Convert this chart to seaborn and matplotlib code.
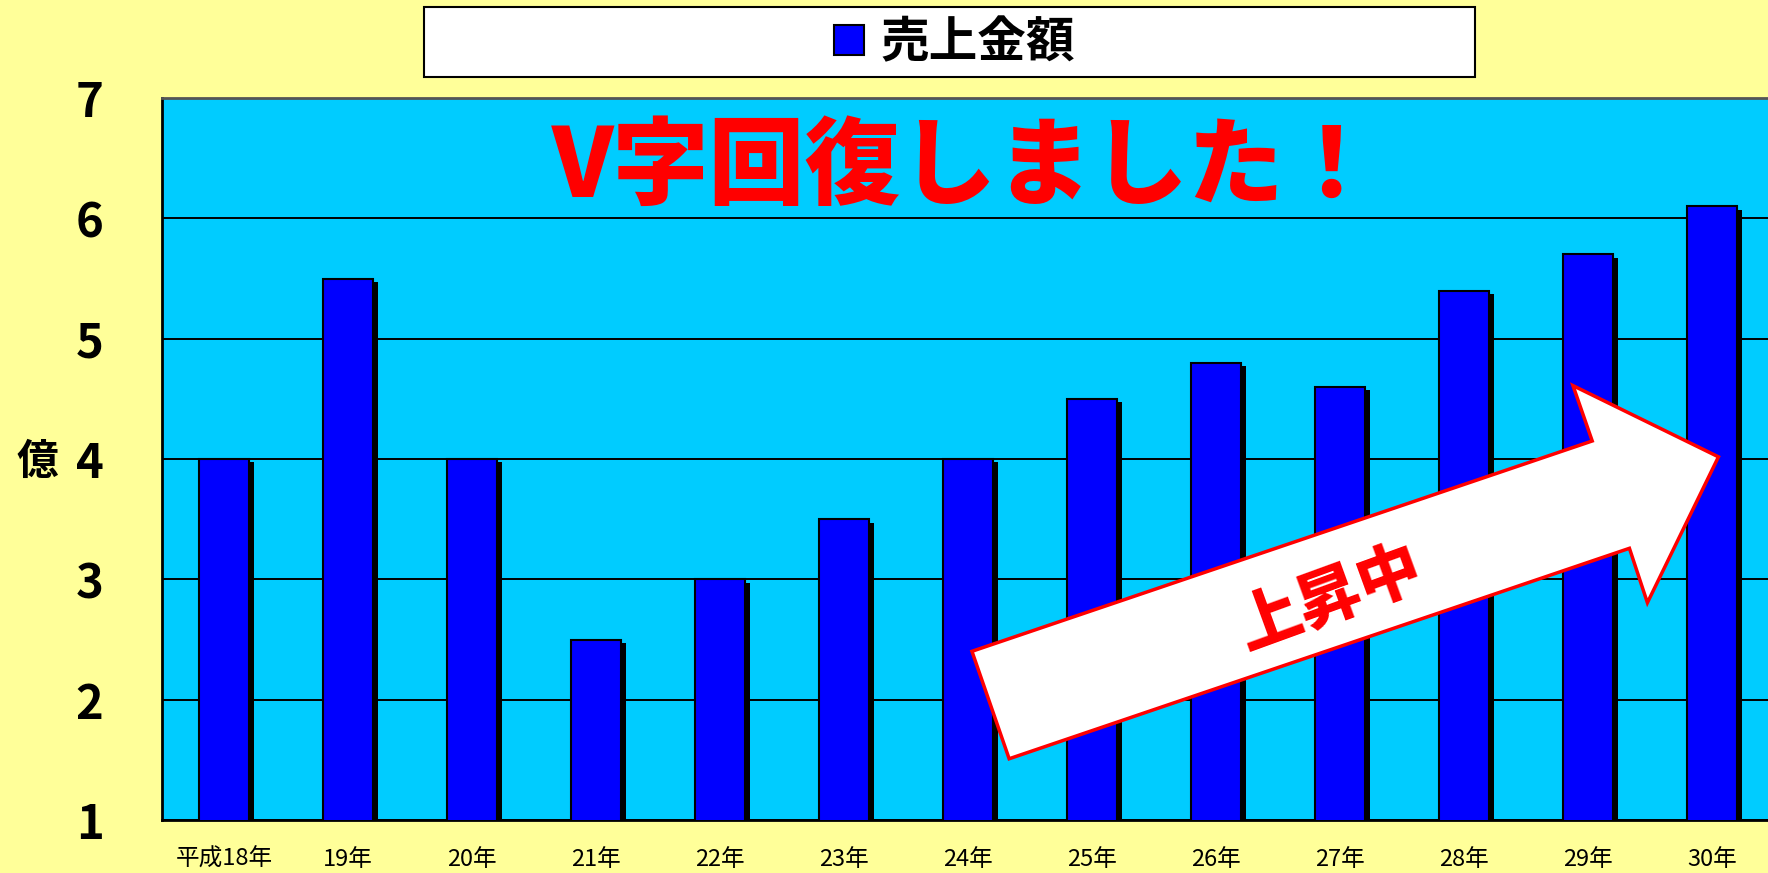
import numpy as np
import pandas as pd
import matplotlib
matplotlib.use("Agg")
import matplotlib.pyplot as plt
import matplotlib.patheffects as pe
from matplotlib.patches import Polygon, Rectangle
from matplotlib.lines import Line2D
import seaborn as sns

# data (unit: 億)
years = ["平成18年", "19年", "20年", "21年", "22年", "23年", "24年",
         "25年", "26年", "27年", "28年", "29年", "30年"]
sales = [4.0, 5.5, 4.0, 2.5, 3.0, 3.5, 4.0, 4.5, 4.8, 4.6, 5.4, 5.7, 6.1]
yticks = [1, 2, 3, 4, 5, 6, 7]

sns.set_theme(style="white")
plt.rcParams["font.family"] = ["Noto Sans CJK JP", "DejaVu Sans"]
plt.rcParams["text.color"] = "black"
plt.rcParams["xtick.color"] = "black"
plt.rcParams["ytick.color"] = "black"

df = pd.DataFrame({"year": years, "sales": sales})

fig = plt.figure(figsize=(17.68, 8.73), dpi=100, facecolor="#FFFF99")
ax = fig.add_axes([0.0916, 0.0607, 0.9118, 0.827])
ax.set_facecolor("#00CCFF")

sns.barplot(data=df, x="year", y="sales", color="#0000FF", width=0.4,
            saturation=1, edgecolor="black", linewidth=1.5, ax=ax, zorder=3)

# drop shadow on the bars
for p in ax.patches:
    p.set_path_effects([pe.SimplePatchShadow(offset=(3.5, -2.5), shadow_rgbFace="black", alpha=1),
                        pe.Normal()])

ax.set_ylim(1, 7)
ax.set_xlim(-0.5, 12.5)
ax.set_yticks(yticks)
ax.set_yticklabels([str(v) for v in yticks], fontsize=34, fontweight="bold", color="black")
ax.yaxis.grid(True, color="black", linewidth=1.4, zorder=1)
ax.set_axisbelow(True)
ax.set_xlabel("")
ax.set_ylabel("")
for lab in ax.get_xticklabels():
    lab.set_color("black")

ax.tick_params(axis="y", direction="in", length=10, width=1.5, pad=42, color="black")
ax.tick_params(axis="x", which="major", length=0, pad=20, labelsize=17)
ax.set_xticks(np.arange(-0.5, 12.5, 1.0), minor=True)
ax.tick_params(axis="x", which="minor", direction="in", length=8, width=1.2, color="black")

for side in ["left", "bottom"]:
    ax.spines[side].set_color("black")
    ax.spines[side].set_linewidth(2)
ax.spines["top"].set_color("#555555")
ax.spines["top"].set_linewidth(2)
ax.spines["right"].set_visible(False)

# big red headline
ax.text(0.499, 0.902, "V字回復しました！", transform=ax.transAxes, ha="center", va="center",
        color="#FF0000", fontsize=69, fontweight="heavy", zorder=6)

# rising arrow
arrow_pts = [(6.032, 2.402), (11.034, 4.15), (10.879, 4.61), (12.052, 4.018),
             (11.479, 2.806), (11.334, 3.258), (6.332, 1.509)]
ax.add_patch(Polygon(arrow_pts, closed=True, facecolor="white", edgecolor="#FF0000",
                     linewidth=2.5, zorder=5))
ax.text(8.92, 2.84, "上昇中", ha="center", va="center", rotation=20,
        color="#FF0000", fontsize=46, fontweight="heavy", zorder=6)

# axis unit
fig.text(0.021, 1 - 462 / 873, "億", ha="center", va="center", fontsize=30,
         fontweight="bold", color="black")

# legend box
fig.patches.append(Rectangle((424 / 1768, 1 - 77 / 873), 1051 / 1768, 70 / 873,
                             transform=fig.transFigure, facecolor="white",
                             edgecolor="black", linewidth=1.5, zorder=1))
handle = Line2D([], [], marker="s", linestyle="none", markersize=21,
                markerfacecolor="#0000FF", markeredgecolor="black", markeredgewidth=1.5)
leg = fig.legend([handle], ["売上金額"], loc="center", bbox_to_anchor=(950 / 1768, 1 - 43 / 873),
                 frameon=False, prop={"size": 35, "weight": "bold"},
                 handlelength=1.0, handletextpad=0.15)

fig.savefig("out.png", dpi=100, facecolor=fig.get_facecolor())
